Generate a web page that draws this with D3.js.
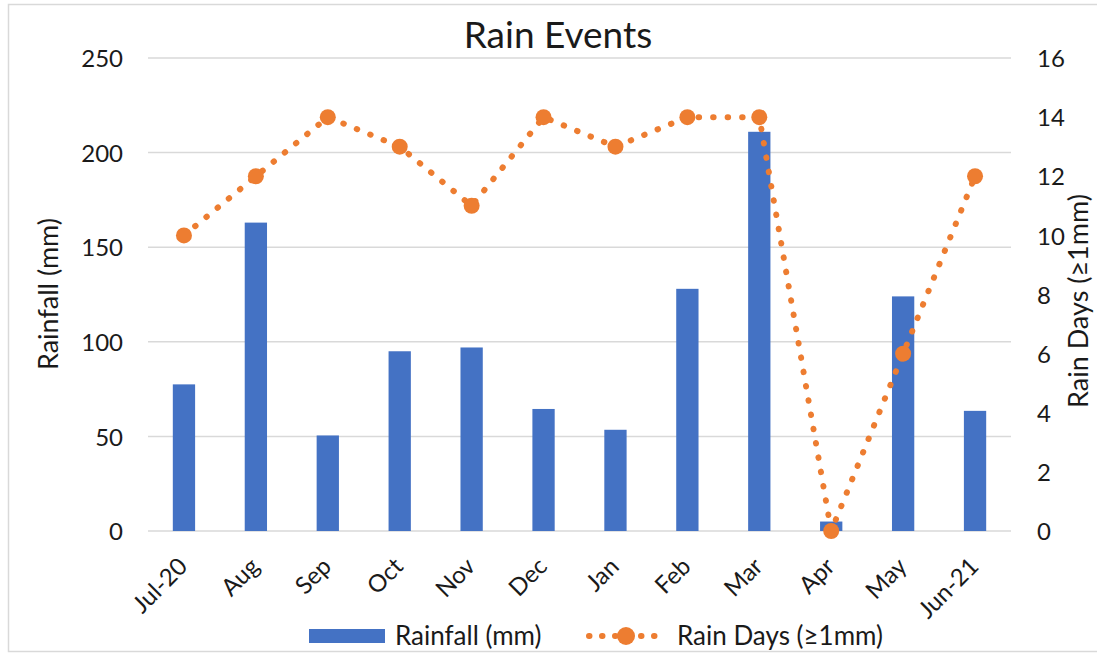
<!DOCTYPE html>
<html><head><meta charset="utf-8">
<script src="https://cdn.jsdelivr.net/npm/d3@7"></script>
<style>body{margin:0;background:#fff;} text{font-family:Lato,"Open Sans",sans-serif;fill:#1a1a1a;}</style>
</head><body>
<svg id="c" width="1097" height="656"></svg>
<script>
const categories = ["Jul-20","Aug","Sep","Oct","Nov","Dec","Jan","Feb","Mar","Apr","May","Jun-21"];
const rainfall = [77.5,163,50.5,95,97,64.5,53.5,128,211,5,124,63.5];
const rainDays = [10,12,14,13,11,14,13,14,14,0,6,12];
const leftTicks = [0,50,100,150,200,250];
const rightTicks = [0,2,4,6,8,10,12,14,16];

const svg = d3.select("#c");
const m = {l:148, r:1011, t:58, b:531};
svg.append("rect").attr("x",8.5).attr("y",4.5).attr("width",1100).attr("height",647)
  .attr("fill","none").attr("stroke","#d9d9d9").attr("stroke-width",1.5);

const x = d3.scaleBand().domain(categories).range([m.l,m.r]).paddingInner(0.69).paddingOuter(0.345);
const yL = d3.scaleLinear().domain([0,250]).range([m.b,m.t]);
const yR = d3.scaleLinear().domain([0,16]).range([m.b,m.t]);

// gridlines
svg.append("g").selectAll("line").data(leftTicks).join("line")
  .attr("x1",m.l).attr("x2",m.r).attr("y1",d=>yL(d)).attr("y2",d=>yL(d))
  .attr("stroke","#d9d9d9").attr("stroke-width",1.5);

// bars
svg.append("g").selectAll("rect").data(rainfall).join("rect")
  .attr("x",(d,i)=>x(categories[i])).attr("width",x.bandwidth())
  .attr("y",d=>yL(d)).attr("height",d=>yL(0)-yL(d)).attr("fill","#4472C4");

// left axis
const gl = svg.append("g").attr("transform",`translate(${m.l-25},0)`)
  .call(d3.axisLeft(yL).tickValues(leftTicks).tickSize(0).tickPadding(0));
gl.select(".domain").remove();
gl.selectAll("text").style("font-size","24px").attr("dy","0.36em");

// right axis
const gr = svg.append("g").attr("transform",`translate(${m.r+26},0)`)
  .call(d3.axisRight(yR).tickValues(rightTicks).tickSize(0).tickPadding(0));
gr.select(".domain").remove();
gr.selectAll("text").style("font-size","24px").attr("dy","0.36em");

// x axis
const gx = svg.append("g").attr("transform",`translate(0,${m.b})`)
  .call(d3.axisBottom(x).tickSize(0).tickPadding(0));
gx.select(".domain").remove();
gx.selectAll("text").style("font-size","24px").attr("text-anchor","end")
  .attr("transform","translate(5,37) rotate(-45)").attr("dy","0").attr("x",0).attr("y",0);

// line
const cx = i => x(categories[i]) + x.bandwidth()/2;
const line = d3.line().x((d,i)=>cx(i)).y(d=>yR(d));
svg.append("path").datum(rainDays).attr("d",line).attr("fill","none")
  .attr("stroke","#ED7D31").attr("stroke-width",6).attr("stroke-linecap","round")
  .attr("stroke-dasharray","0.5 14");
svg.append("g").selectAll("circle").data(rainDays).join("circle")
  .attr("cx",(d,i)=>cx(i)).attr("cy",d=>yR(d)).attr("r",8).attr("fill","#ED7D31");

// title
svg.append("text").attr("x",558).attr("y",48).attr("text-anchor","middle").style("font-size","37px").text("Rain Events");
// axis titles
svg.append("text").attr("transform",`translate(58,294) rotate(-90)`).attr("text-anchor","middle").style("font-size","27px").text("Rainfall (mm)");
svg.append("text").attr("transform",`translate(1088,301) rotate(-90)`).attr("text-anchor","middle").style("font-size","27px").text("Rain Days (≥1mm)");

// legend
svg.append("rect").attr("x",309).attr("y",629).attr("width",76).attr("height",14).attr("fill","#4472C4");
svg.append("text").attr("x",395).attr("y",645).style("font-size","26px").text("Rainfall (mm)");
svg.append("line").attr("x1",589).attr("x2",664).attr("y1",636).attr("y2",636)
  .attr("stroke","#ED7D31").attr("stroke-width",6).attr("stroke-linecap","round").attr("stroke-dasharray","0.5 12.5");
svg.append("circle").attr("cx",626).attr("cy",636).attr("r",9).attr("fill","#ED7D31");
svg.append("text").attr("x",677).attr("y",645).style("font-size","26px").text("Rain Days (≥1mm)");
</script>
</body></html>
